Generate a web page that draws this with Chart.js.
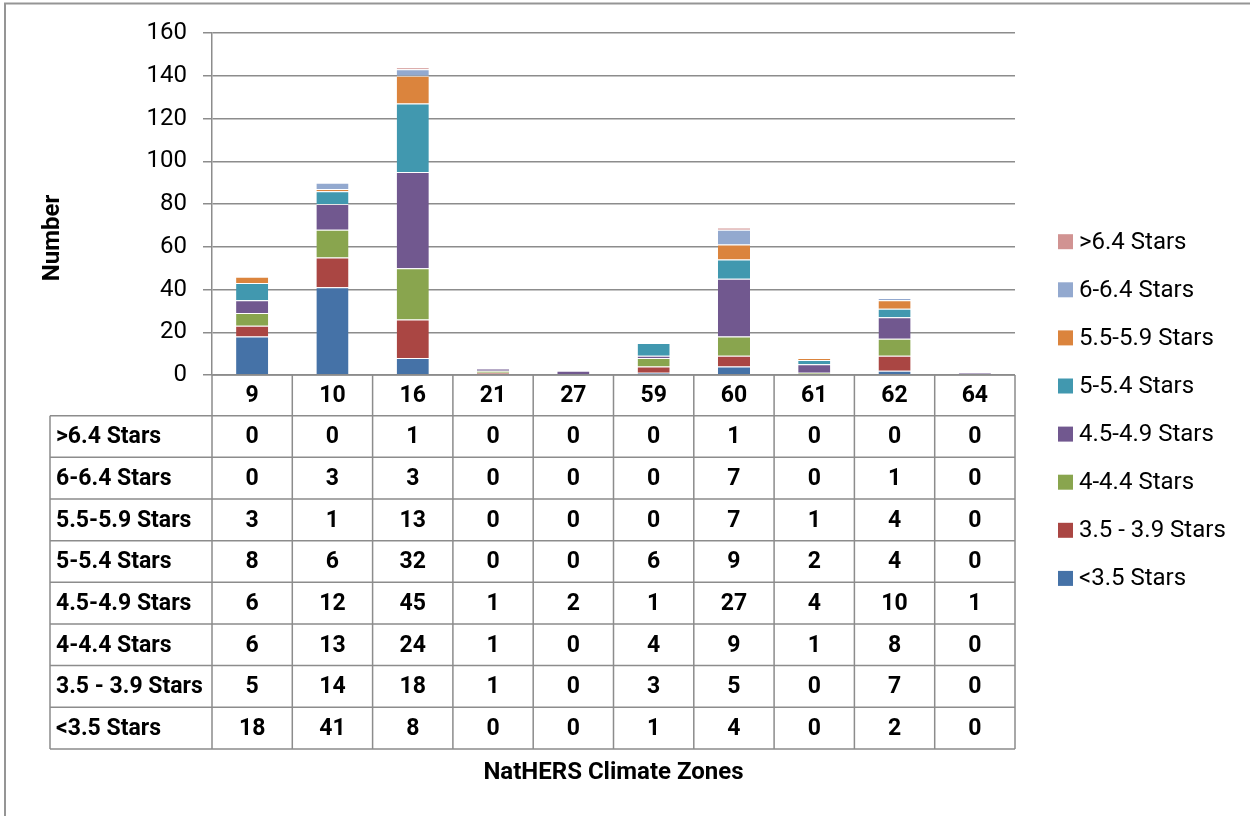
<!DOCTYPE html>
<html>
<head>
<meta charset="utf-8">
<title>NatHERS star ratings by climate zone</title>
<script src="https://cdn.jsdelivr.net/npm/chart.js@4.4.1/dist/chart.umd.min.js"></script>
<style>
  html, body { margin: 0; padding: 0; background: #ffffff; }
  canvas { display: block; }
</style>
</head>
<body>
<canvas id="chart" width="1250" height="816"></canvas>
<script>
// Climate zones along the category axis
const zones = ['9', '10', '16', '21', '27', '59', '60', '61', '62', '64'];

// Star-rating bands, stacked from the bottom up
const bandLabels = ['<3.5 Stars', '3.5 - 3.9 Stars', '4-4.4 Stars', '4.5-4.9 Stars',
                    '5-5.4 Stars', '5.5-5.9 Stars', '6-6.4 Stars', '>6.4 Stars'];
const below35   = [18, 41, 8, 0, 0, 1, 4, 0, 2, 0];
const from35    = [5, 14, 18, 1, 0, 3, 5, 0, 7, 0];
const from40    = [6, 13, 24, 1, 0, 4, 9, 1, 8, 0];
const from45    = [6, 12, 45, 1, 2, 1, 27, 4, 10, 1];
const from50    = [8, 6, 32, 0, 0, 6, 9, 2, 4, 0];
const from55    = [3, 1, 13, 0, 0, 0, 7, 1, 4, 0];
const from60    = [0, 3, 3, 0, 0, 0, 7, 0, 1, 0];
const above64   = [0, 0, 1, 0, 0, 0, 1, 0, 0, 0];
const bandColors = ['#4572A7', '#AA4643', '#89A54E', '#71588F',
                    '#4198AF', '#DB843D', '#93A9CF', '#D19392'];
const yTicks = [0, 20, 40, 60, 80, 100, 120, 140, 160];

const bandValues = [below35, from35, from40, from45, from50, from55, from60, above64];

const FONT = 'Roboto, "Liberation Sans", sans-serif';
const LINE = '#8c8c8c';

const datasets = bandLabels.map((label, i) => ({
  label: label,
  data: bandValues[i],
  backgroundColor: bandColors[i],
  borderColor: 'rgba(255,255,255,0.55)',
  borderWidth: { top: 1, right: 0, bottom: 0, left: 0 },
  borderSkipped: false,
  barPercentage: 0.4,
  categoryPercentage: 1.0
}));

// Frame, axis titles, data table and legend drawn around the plot area
const decorations = {
  id: 'decorations',
  afterDraw(chart) {
    const ctx = chart.ctx;
    const area = chart.chartArea;
    const x = chart.scales.x;
    const n = zones.length;
    const colW = (area.right - area.left) / n;
    const headerH = 40.7;
    const rowH = 41.65;
    const labelLeft = 50;
    const tableTop = area.bottom;
    const rowsTop = tableTop + headerH;
    const rows = bandLabels.length;
    const tableBottom = rowsTop + rows * rowH;

    ctx.save();

    // outer frame
    ctx.strokeStyle = '#959595';
    ctx.lineWidth = 2;
    ctx.beginPath();
    ctx.moveTo(5, 820);
    ctx.lineTo(5, 3.5);
    ctx.lineTo(1260, 3.5);
    ctx.stroke();

    // table grid
    ctx.strokeStyle = LINE;
    ctx.lineWidth = 1.5;
    ctx.beginPath();
    // header row (category cells only)
    ctx.moveTo(area.left, tableTop);
    ctx.lineTo(area.right, tableTop);
    for (let r = 0; r <= rows; r++) {
      const yy = rowsTop + r * rowH;
      ctx.moveTo(labelLeft, yy);
      ctx.lineTo(area.right, yy);
    }
    for (let c = 0; c <= n; c++) {
      const xx = area.left + c * colW;
      ctx.moveTo(xx, tableTop);
      ctx.lineTo(xx, tableBottom);
    }
    ctx.moveTo(labelLeft, rowsTop);
    ctx.lineTo(labelLeft, tableBottom);
    ctx.stroke();

    // table text
    ctx.fillStyle = '#000000';
    ctx.font = 'bold 23px ' + FONT;
    ctx.textBaseline = 'middle';
    ctx.textAlign = 'center';
    zones.forEach((z, c) => {
      ctx.fillText(z, x.getPixelForValue(c), tableTop + headerH / 2 + 1);
    });
    for (let r = 0; r < rows; r++) {
      const band = rows - 1 - r;
      const cy = rowsTop + r * rowH + rowH / 2 + 1;
      ctx.textAlign = 'left';
      ctx.fillText(bandLabels[band], labelLeft + 6, cy);
      ctx.textAlign = 'center';
      bandValues[band].forEach((v, c) => {
        ctx.fillText(String(v), x.getPixelForValue(c), cy);
      });
    }

    // category axis title
    ctx.font = 'bold 24px ' + FONT;
    ctx.textAlign = 'center';
    ctx.fillText('NatHERS Climate Zones', (area.left + area.right) / 2, 773);

    // value axis title
    ctx.save();
    ctx.translate(53, 238);
    ctx.rotate(-Math.PI / 2);
    ctx.fillText('Number', 0, 0);
    ctx.restore();

    // legend, top item is the highest band
    ctx.font = '24px ' + FONT;
    ctx.textAlign = 'left';
    const legendTop = 241.7;
    const legendStep = 48.1;
    for (let k = 0; k < rows; k++) {
      const band = rows - 1 - k;
      const cy = legendTop + k * legendStep;
      ctx.fillStyle = bandColors[band];
      ctx.fillRect(1058, cy - 7.5, 15, 15);
      ctx.fillStyle = '#000000';
      ctx.fillText(bandLabels[band], 1079, cy + 1);
    }

    ctx.restore();
  }
};

new Chart(document.getElementById('chart'), {
  type: 'bar',
  data: { labels: zones, datasets: datasets },
  options: {
    responsive: false,
    animation: false,
    devicePixelRatio: 1,
    layout: { padding: { left: 0, top: 33, right: 235, bottom: 441 } },
    plugins: {
      legend: { display: false },
      tooltip: { enabled: false },
      title: { display: false }
    },
    scales: {
      x: {
        stacked: true,
        display: false
      },
      y: {
        stacked: true,
        min: yTicks[0],
        max: yTicks[yTicks.length - 1],
        afterFit(scale) { scale.width = 212; },
        afterBuildTicks(scale) { scale.ticks = yTicks.map(v => ({ value: v })); },
        ticks: {
          color: '#000000',
          font: { family: FONT, size: 24 },
          padding: 16
        },
        grid: {
          color: LINE,
          lineWidth: 1.5,
          tickLength: 9,
          drawTicks: true
        },
        border: { color: LINE, width: 1.5 }
      }
    }
  },
  plugins: [decorations]
});
</script>
</body>
</html>
